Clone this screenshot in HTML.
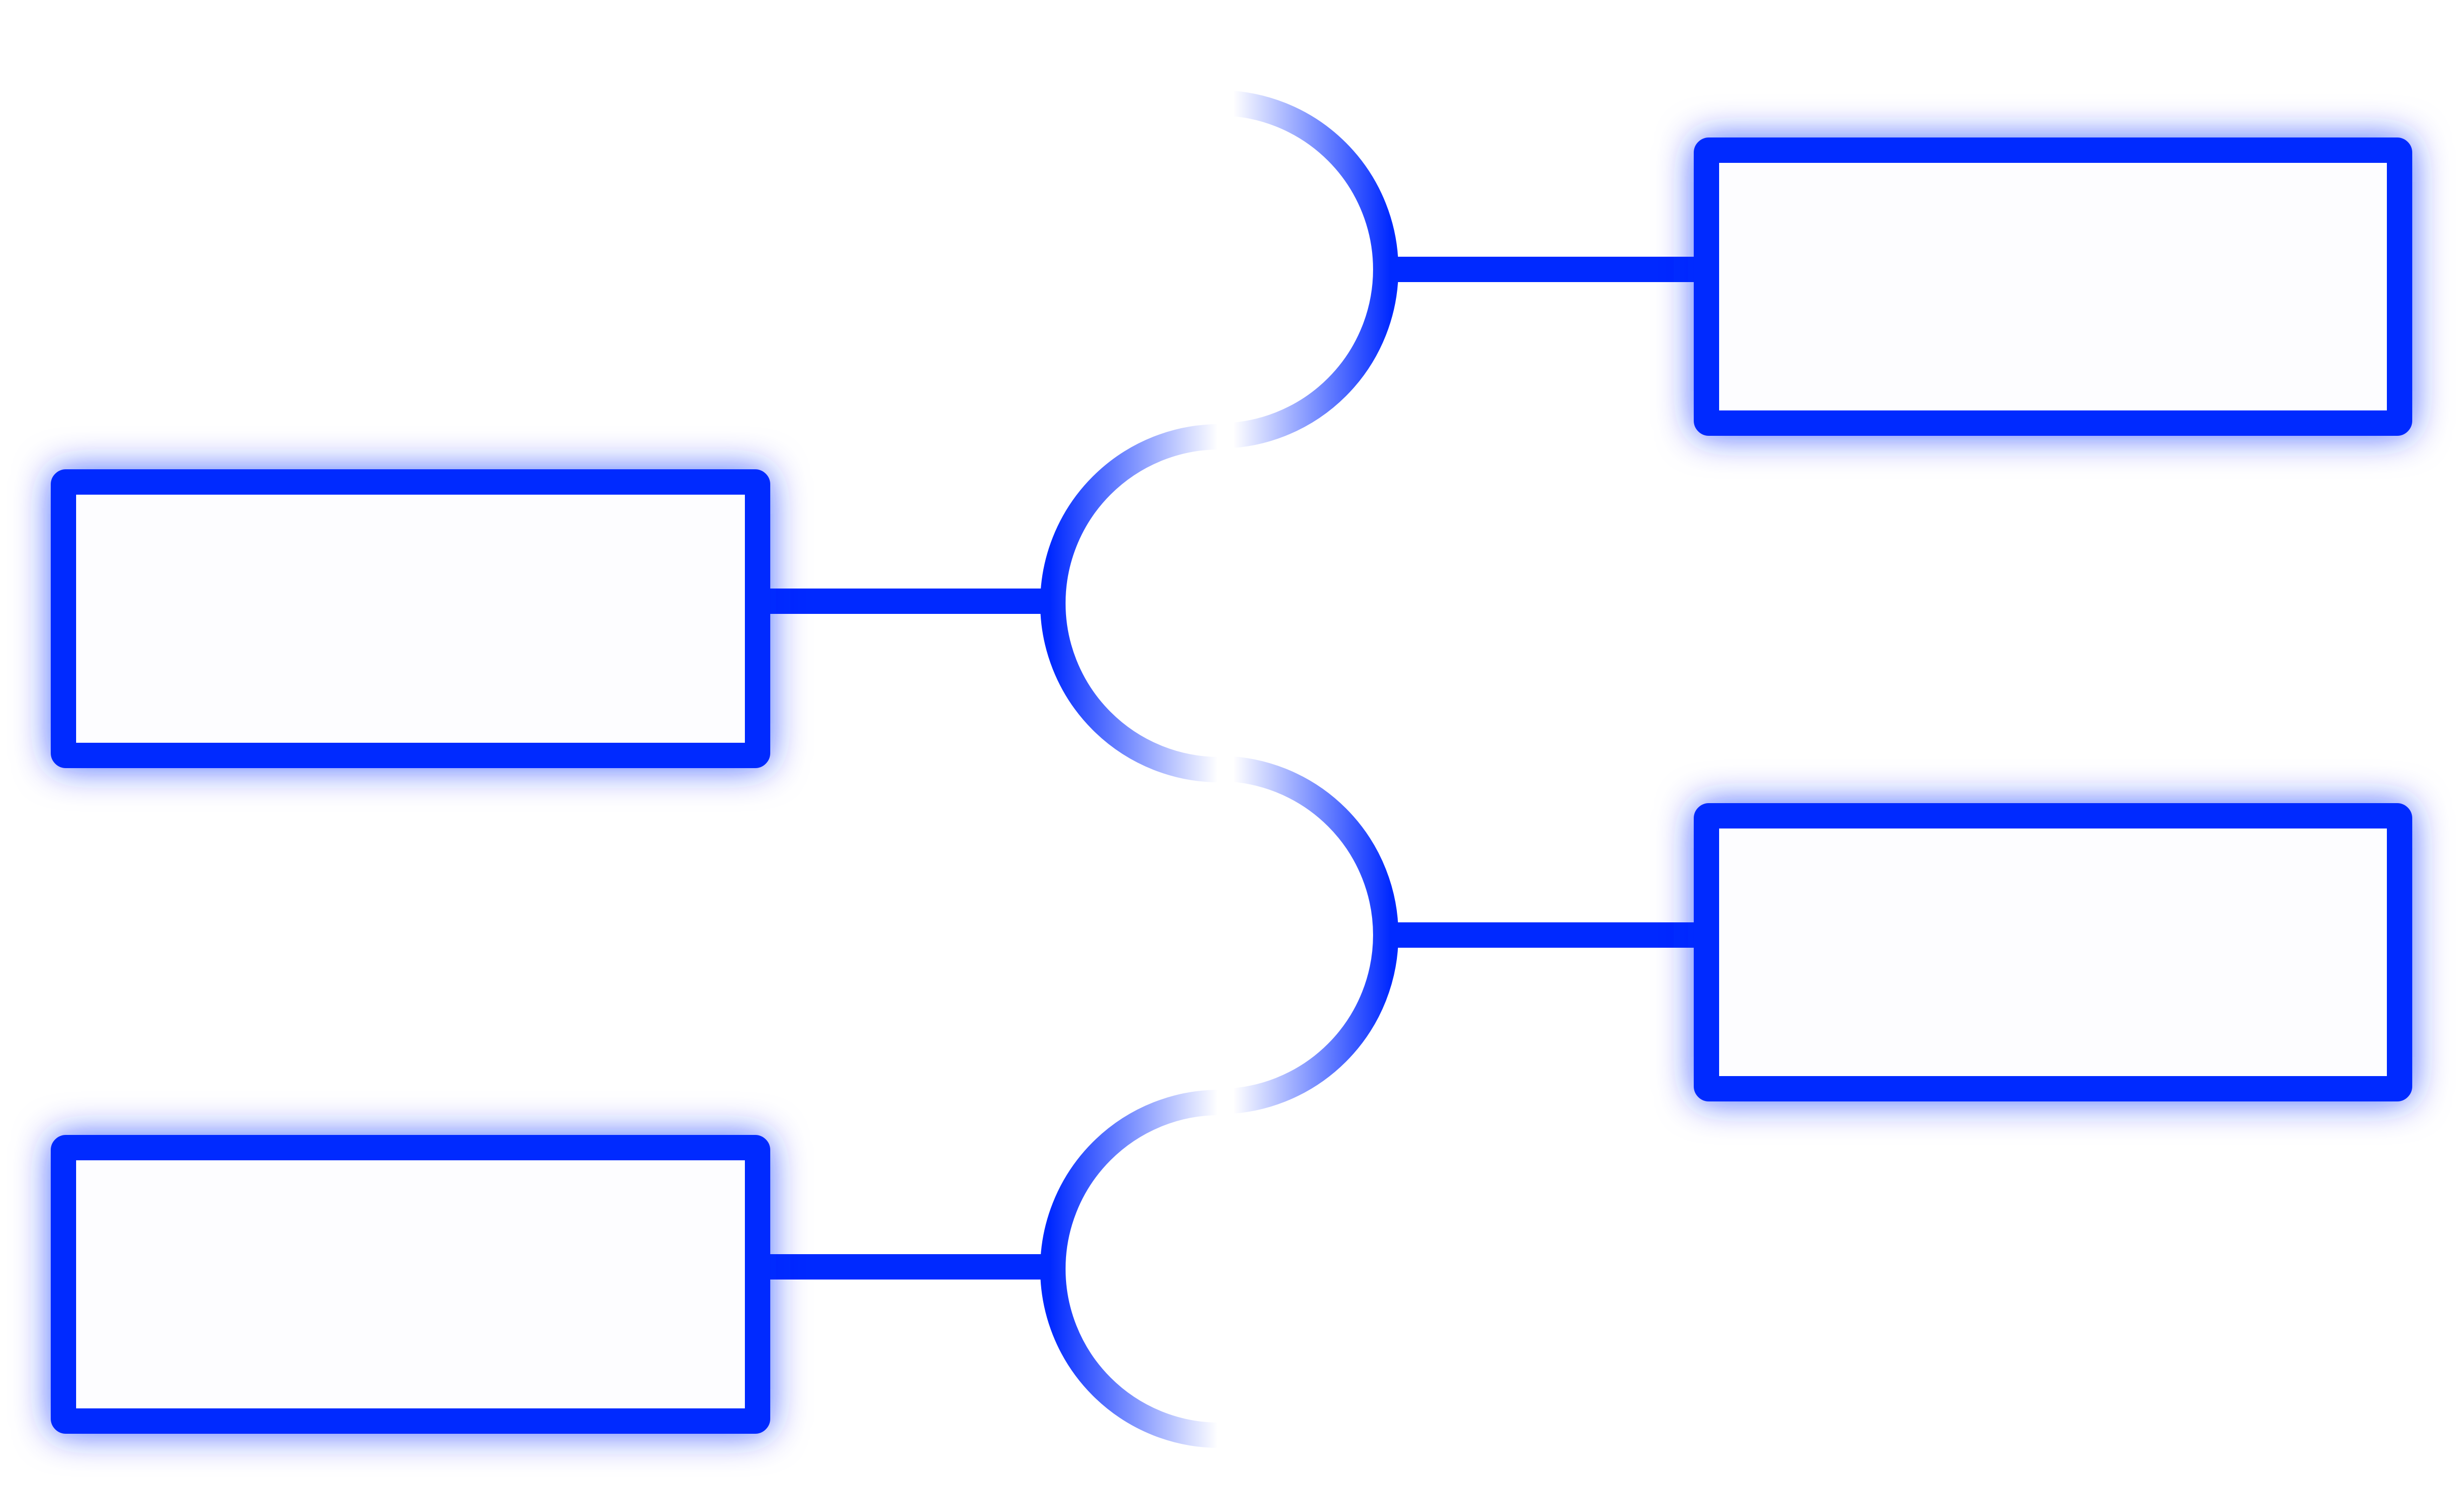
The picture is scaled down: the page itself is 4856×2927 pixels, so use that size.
<!DOCTYPE html>
<html><head><meta charset="utf-8"><style>
html,body{margin:0;padding:0;background:#fff;}
svg{display:block;}
</style></head><body>
<svg width="4856" height="2927" viewBox="0 0 4856 2927" xmlns="http://www.w3.org/2000/svg">
<defs>
<filter id="glow" x="-20%" y="-40%" width="140%" height="180%">
<feGaussianBlur in="SourceAlpha" stdDeviation="36" result="b"/>
<feFlood flood-color="#0029ff" flood-opacity="0.7"/>
<feComposite in2="b" operator="in" result="s"/>
<feMerge><feMergeNode in="s"/><feMergeNode in="SourceGraphic"/></feMerge>
</filter>
<linearGradient id="gr" gradientUnits="userSpaceOnUse" x1="2430" y1="0" x2="2740" y2="0">
<stop offset="0" stop-color="#0029ff" stop-opacity="0"/>
<stop offset="1" stop-color="#0029ff" stop-opacity="1"/>
</linearGradient>
<linearGradient id="gl" gradientUnits="userSpaceOnUse" x1="2400" y1="0" x2="2070" y2="0">
<stop offset="0" stop-color="#0029ff" stop-opacity="0"/>
<stop offset="1" stop-color="#0029ff" stop-opacity="1"/>
</linearGradient>
</defs>
<g stroke="#0029ff" stroke-width="50" fill="none">
<line x1="1510" y1="1185" x2="2060" y2="1185"/>
<line x1="1510" y1="2497" x2="2060" y2="2497"/>
<line x1="2745" y1="531" x2="3345" y2="531"/>
<line x1="2745" y1="1843" x2="3345" y2="1843"/>
</g>
<g fill="none" stroke-width="50">
<path d="M2403 203 A328 328 0 0 1 2403 859" stroke="url(#gr)"/>
<path d="M2403 1515 A328 328 0 0 1 2403 2171" stroke="url(#gr)"/>
<path d="M2403 861 A328 328 0 0 0 2403 1517" stroke="url(#gl)"/>
<path d="M2403 2173 A328 328 0 0 0 2403 2829" stroke="url(#gl)"/>
</g>
<g stroke="#0029ff" stroke-width="50" fill="#fdfdff" filter="url(#glow)">
<rect x="125" y="950" width="1368" height="539" rx="5"/>
<rect x="125" y="2262" width="1368" height="539" rx="5"/>
<rect x="3363" y="296" width="1366" height="538" rx="5"/>
<rect x="3363" y="1608" width="1366" height="538" rx="5"/>
</g>
</svg>
</body></html>
